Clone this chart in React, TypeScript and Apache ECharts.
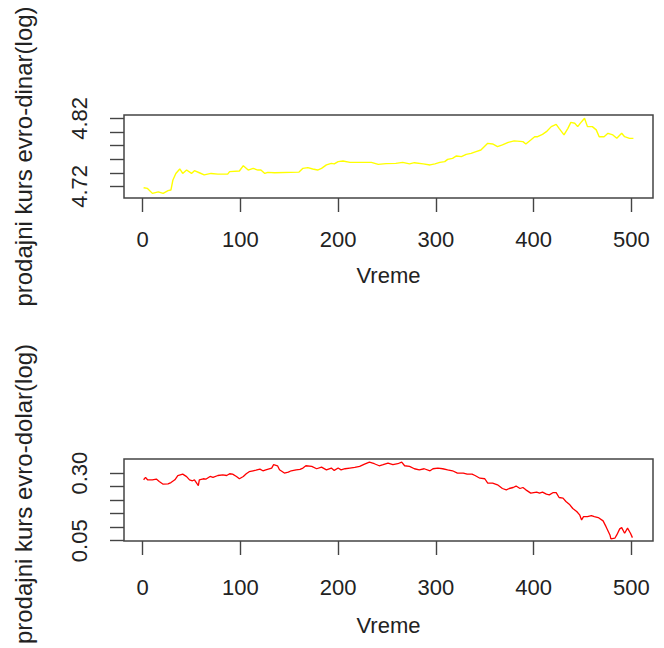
import React, { useEffect, useRef } from "react";
import * as echarts from "echarts";

// Top panel: log of EUR/RSD selling rate over time
const dinarTime = [
  1, 5, 10, 16, 21, 26, 29, 31, 34, 38, 41, 45, 50, 53, 58, 63, 70, 77, 87, 89,
  99, 103, 108, 113, 118, 121, 125, 128, 135, 160, 164, 169, 174, 179, 183, 188,
  193, 196, 200, 205, 212, 234, 241, 249, 259, 266, 273, 278, 287, 294, 299, 304,
  309, 312, 317, 321, 326, 331, 336, 341, 346, 353, 358, 363, 368, 374, 380, 389,
  392, 397, 401, 404, 409, 413, 418, 423, 426, 431, 435, 438, 442, 445, 449, 452,
  455, 460, 464, 467, 472, 476, 481, 485, 490, 493, 498, 502,
];
const dinarLog = [
  4.718, 4.717, 4.7097, 4.712, 4.7097, 4.7137, 4.7147, 4.7294, 4.739, 4.7456,
  4.739, 4.744, 4.739, 4.743, 4.74, 4.7368, 4.739, 4.738, 4.738, 4.7416, 4.7426,
  4.7504, 4.744, 4.7465, 4.744, 4.744, 4.739, 4.7406, 4.74, 4.741, 4.7465,
  4.7475, 4.7456, 4.744, 4.7465, 4.7515, 4.7538, 4.753, 4.7563, 4.7573, 4.7553,
  4.7553, 4.7524, 4.7534, 4.7538, 4.7553, 4.753, 4.7548, 4.753, 4.7515, 4.753,
  4.7553, 4.7563, 4.7597, 4.7612, 4.7647, 4.7637, 4.767, 4.7685, 4.771, 4.7735,
  4.7832, 4.7823, 4.7784, 4.7809, 4.7847, 4.7868, 4.7857, 4.7823, 4.7882, 4.793,
  4.793, 4.7965, 4.8004, 4.8078, 4.8112, 4.8053, 4.7956, 4.8053, 4.8141, 4.8127,
  4.8078, 4.8151, 4.82, 4.8078, 4.8078, 4.803, 4.793, 4.793, 4.798, 4.7956,
  4.7906, 4.798, 4.793, 4.7906, 4.7906,
];

// Bottom panel: log of EUR/USD selling rate over time
const dollarTime = [
  1, 3, 5, 10, 14, 17, 21, 26, 29, 33, 36, 41, 45, 48, 51, 53, 56, 57, 58, 62,
  65, 69, 72, 77, 82, 86, 89, 92, 96, 99, 103, 106, 109, 113, 116, 120, 123, 126,
  132, 134, 138, 140, 145, 149, 152, 157, 161, 164, 167, 173, 178, 183, 188, 193,
  196, 200, 203, 207, 212, 217, 222, 227, 232, 237, 242, 246, 251, 256, 261, 265,
  268, 273, 278, 283, 288, 294, 297, 302, 307, 312, 317, 322, 328, 332, 337, 340,
  345, 350, 353, 358, 363, 368, 372, 375, 379, 382, 386, 389, 392, 397, 403, 406,
  409, 413, 416, 420, 423, 426, 430, 433, 437, 440, 444, 447, 449, 451, 455, 459,
  462, 466, 471, 474, 478, 479, 483, 485, 488, 490, 493, 496, 499, 501,
];
const dollarLog = [
  0.2752, 0.2838, 0.2752, 0.2752, 0.2778, 0.269, 0.259, 0.26, 0.265, 0.2752,
  0.291, 0.296, 0.287, 0.275, 0.2715, 0.275, 0.259, 0.254, 0.275, 0.279, 0.2778,
  0.2875, 0.2838, 0.291, 0.2937, 0.291, 0.2975, 0.296, 0.2875, 0.279, 0.2875,
  0.2975, 0.305, 0.3085, 0.311, 0.3148, 0.3085, 0.312, 0.3185, 0.331, 0.327,
  0.312, 0.3, 0.3037, 0.3085, 0.312, 0.3135, 0.3185, 0.327, 0.3245, 0.316, 0.322,
  0.312, 0.3185, 0.3098, 0.3185, 0.312, 0.316, 0.3185, 0.321, 0.3245, 0.3333,
  0.3407, 0.3345, 0.327, 0.331, 0.337, 0.331, 0.3345, 0.3407, 0.327, 0.3245,
  0.316, 0.312, 0.316, 0.3085, 0.316, 0.3185, 0.316, 0.312, 0.3085, 0.3, 0.3,
  0.296, 0.296, 0.291, 0.281, 0.279, 0.263, 0.263, 0.2567, 0.243, 0.238, 0.243,
  0.2467, 0.252, 0.243, 0.2467, 0.238, 0.226, 0.2297, 0.226, 0.2297, 0.222,
  0.2196, 0.228, 0.228, 0.2097, 0.2074, 0.1948, 0.1826, 0.169, 0.158, 0.1456,
  0.127, 0.1393, 0.1393, 0.143, 0.1393, 0.1356, 0.1233, 0.102, 0.0715, 0.0567,
  0.0593, 0.0715, 0.0937, 0.0985, 0.0778, 0.0963, 0.0778, 0.0615,
];

const xTicks = [0, 100, 200, 300, 400, 500];
const dinarTicks = [4.72, 4.74, 4.76, 4.78, 4.8, 4.82];
const dinarLabels = [4.72, 4.82];
const dollarTicks = [0.05, 0.1, 0.15, 0.2, 0.25, 0.3];
const dollarLabels = [0.05, 0.3];

const regular = "'Liberation Sans', Arial, sans-serif";
const ink = "#222";
const boxColor = "#444";

function xAxisCfg(gridIndex: number, labelMargin: number, nameGap: number) {
  return {
    type: "value",
    gridIndex,
    min: -19.04,
    max: 522.04,
    axisLine: { show: false, onZero: false },
    splitLine: { show: false },
    axisTick: {
      show: true,
      customValues: xTicks,
      length: 14,
      lineStyle: { color: boxColor, width: 1.4 },
    },
    axisLabel: {
      customValues: xTicks,
      margin: labelMargin,
      fontSize: 22,
      fontFamily: regular,
      color: ink,
    },
    name: "Vreme",
    nameLocation: "middle",
    nameGap,
    nameTextStyle: { fontSize: 22, fontFamily: regular, color: ink },
  };
}

function yAxisCfg(
  gridIndex: number,
  min: number,
  max: number,
  ticks: number[],
  labels: number[],
  title: string,
  titlePadding: number[]
) {
  return {
    type: "value",
    gridIndex,
    min,
    max,
    axisLine: { show: false, onZero: false },
    splitLine: { show: false },
    axisTick: {
      show: true,
      customValues: ticks,
      length: 14,
      lineStyle: { color: boxColor, width: 1.4 },
    },
    axisLabel: {
      customValues: labels,
      rotate: 90,
      margin: 34,
      fontSize: 22,
      fontFamily: regular,
      color: ink,
      formatter: (v: number) => v.toFixed(2),
    },
    name: title,
    nameLocation: "middle",
    nameRotate: 90,
    nameGap: 89,
    nameTextStyle: { fontSize: 24, fontFamily: regular, color: ink, padding: titlePadding },
  };
}

export default function App() {
  const ref = useRef<HTMLDivElement>(null);
  useEffect(() => {
    if (!ref.current) return;
    const chart = echarts.init(ref.current, undefined, { renderer: "svg" });
    chart.setOption({
      animation: false,
      backgroundColor: "#ffffff",
      grid: [
        { left: 124, top: 115, width: 529, height: 83, show: true, borderColor: boxColor, borderWidth: 1.5, backgroundColor: "transparent", outerBoundsMode: "none", containLabel: false },
        { left: 124, top: 459, width: 529, height: 82, show: true, borderColor: boxColor, borderWidth: 1.5, backgroundColor: "transparent", outerBoundsMode: "none", containLabel: false },
      ],
      xAxis: [xAxisCfg(0, 30, 66), xAxisCfg(1, 35, 73)],
      yAxis: [
        yAxisCfg(0, 4.7029, 4.8249, dinarTicks, dinarLabels, "prodajni kurs evro-dinar(log)", [0, 0, 0, 0]),
        yAxisCfg(1, 0.049, 0.352, dollarTicks, dollarLabels, "prodajni kurs evro-dolar(log)", [0, 0, 0, 12]),
      ],
      series: [
        {
          type: "line",
          xAxisIndex: 0,
          yAxisIndex: 0,
          showSymbol: false,
          silent: true,
          data: dinarTime.map((t, i) => [t, dinarLog[i]]),
          lineStyle: { color: "#FFFF00", width: 1.4 },
        },
        {
          type: "line",
          xAxisIndex: 1,
          yAxisIndex: 1,
          showSymbol: false,
          silent: true,
          data: dollarTime.map((t, i) => [t, dollarLog[i]]),
          lineStyle: { color: "#FF0000", width: 1.3 },
        },
      ],
    });
    return () => chart.dispose();
  }, []);
  return (
    <div
      ref={ref}
      style={{ position: "fixed", left: 0, top: 0, width: 664, height: 648, background: "#fff" }}
    />
  );
}
